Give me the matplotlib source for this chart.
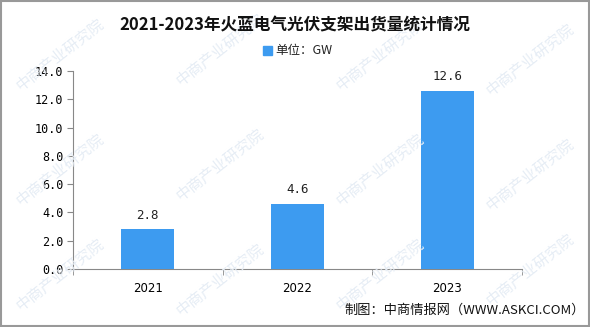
import numpy as np
import matplotlib.pyplot as plt
from matplotlib.patches import Rectangle

plt.rcParams['font.family'] = ['Noto Sans CJK SC', 'DejaVu Sans']

# data
years = ['2021', '2022', '2023']
shipments = [2.8, 4.6, 12.6]
y_ticks = [0, 2, 4, 6, 8, 10, 12, 14]

bar_color = '#3d9bf0'

fig = plt.figure(figsize=(5.9, 3.27), dpi=100)
ax = fig.add_axes([73 / 590, 1 - 269 / 327, 449 / 590, 198 / 327])

# faint watermarks
wm_pos = [(60, 55), (220, 50), (380, 55), (530, 60),
          (60, 170), (220, 165), (380, 170), (530, 175),
          (60, 275), (220, 280), (380, 275), (530, 270)]
for wx, wy in wm_pos:
    fig.text(wx / 590, 1 - wy / 327, '中商产业研究院', fontsize=11, color='#e6edf5',
             rotation=38, ha='center', va='center', zorder=0)

x = np.arange(len(years))
ax.bar(x, shipments, width=0.355, color=bar_color, zorder=3)
for xi, v in zip(x, shipments):
    ax.text(xi, v + 0.55, f'{v:.1f}', ha='center', va='bottom', fontsize=9,
            family='DejaVu Sans Mono', color='#222222', zorder=4)

ax.set_xlim(-0.5, len(years) - 0.5)
ax.set_ylim(0, 14)
ax.set_yticks(y_ticks)
ax.set_yticklabels([f'{t:.1f}' for t in y_ticks], family='DejaVu Sans Mono', fontsize=8.5)
ax.set_xticks(x)
ax.set_xticklabels(years, fontsize=8.5, family='DejaVu Sans')
ax.set_xticks(np.arange(len(years) + 1) - 0.5, minor=True)
ax.tick_params(axis='x', which='major', length=0, pad=9)
ax.tick_params(axis='x', which='minor', length=4, color='#888888', direction='out')
ax.tick_params(axis='y', length=4, color='#888888', pad=3)
for s in ['top', 'right']:
    ax.spines[s].set_visible(False)
for s in ['left', 'bottom']:
    ax.spines[s].set_color('#888888')
ax.patch.set_alpha(0)

fig.text(0.5, 1 - 25 / 327, '2021-2023年火蓝电气光伏支架出货量统计情况', ha='center', va='center',
         fontsize=12, fontweight='bold', color='#111111')
fig.patches.append(Rectangle((263 / 590, 1 - 55 / 327), 9 / 590, 9 / 327,
                             transform=fig.transFigure, color=bar_color))
fig.text(275 / 590, 1 - 50.5 / 327, '单位：GW', ha='left', va='center', fontsize=9, color='#222222')
fig.text(585 / 590, 1 - 310 / 327, '制图：中商情报网（WWW.ASKCI.COM）', ha='right', va='center',
         fontsize=9.5, color='#111111')

fig.patches.append(Rectangle((0.001, 0.002), 0.997, 0.995, transform=fig.transFigure,
                             fill=False, edgecolor='#999999', linewidth=1.5))

fig.savefig('out.png', dpi=100)
